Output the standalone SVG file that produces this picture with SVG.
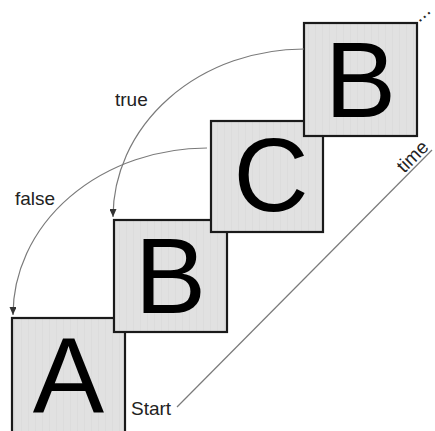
<svg xmlns="http://www.w3.org/2000/svg" width="435" height="431" viewBox="0 0 435 431">
<style>
.box{fill:url(#stripes);stroke:#1a1a1a;stroke-width:2.2}
.big{font-family:"Liberation Sans",Arial,sans-serif;font-size:107px;fill:#000;text-anchor:middle}
.lbl{font-family:"Liberation Sans",Arial,sans-serif;font-size:19px;fill:#222}
.conn{fill:none;stroke:#7a7a7a;stroke-width:1.2}
</style>
<defs>
<pattern id="stripes" width="7" height="10" patternUnits="userSpaceOnUse">
<rect width="7" height="10" fill="#e1e1e1"/>
<rect x="0" width="1" height="10" fill="#dcdcdc"/>
</pattern>
<marker id="arr" markerUnits="userSpaceOnUse" markerWidth="8" markerHeight="7" refX="8" refY="3.5" orient="auto">
<path d="M0,0 L8,3.5 L0,7 z" fill="#333"/>
</marker>
</defs>
<rect width="435" height="431" fill="#fff"/>
<g id="nodeA">
<rect class="box" x="12" y="318" width="113" height="114.5"/>
<text class="big" x="68.5" y="413">A</text>
</g>
<g id="nodeB1">
<rect class="box" x="114" y="220" width="113" height="112"/>
<text class="big" x="170.5" y="313">B</text>
</g>
<g id="nodeC">
<rect class="box" x="211" y="121" width="112" height="111"/>
<text class="big" x="271" y="211" style="font-size:104px">C</text>
</g>
<g id="nodeB2">
<rect class="box" x="304" y="23" width="113" height="113"/>
<text class="big" x="360.5" y="117">B</text>
</g>
<g id="connectors">
<path class="conn" d="M304,49 A191,168 0 0 0 113,217" marker-end="url(#arr)"/>
<path class="conn" d="M207,148 A194,167 0 0 0 13,315" marker-end="url(#arr)"/>
<line class="conn" x1="177" y1="407" x2="432" y2="150"/>
</g>
<g id="labels">
<text class="lbl" x="115" y="106">true</text>
<text class="lbl" x="15" y="205">false</text>
<text class="lbl" x="131" y="415">Start</text>
<text class="lbl" x="417" y="161" text-anchor="middle" transform="rotate(-45 417 161)">time</text>
<text class="lbl" x="419" y="23" style="font-size:20px" transform="rotate(-40 419 23)">...</text>
</g>
</svg>
